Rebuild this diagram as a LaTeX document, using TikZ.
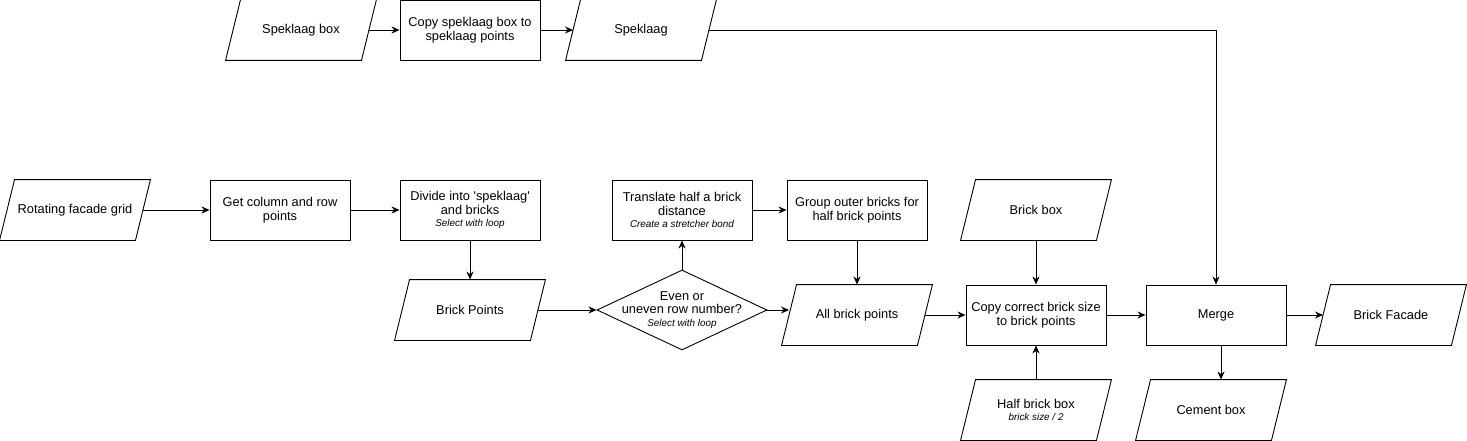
\documentclass[tikz,border=0pt]{standalone}
\usepackage{fontspec}
\setmainfont{Liberation Sans}
\usetikzlibrary{arrows.meta,shapes.geometric}
\newcommand{\subnote}[1]{\\[-1pt]{\fontsize{9.9}{11}\selectfont\itshape #1}}
\begin{document}
\begin{tikzpicture}[x=1pt, y=-1pt, line width=.9pt,
    >={Stealth[length=8pt,width=7pt,inset=2.5pt]},
    every node/.style={font=\fontsize{12.8}{13.5}\selectfont, align=center},
    proc/.style={draw, minimum width=140, minimum height=60, inner sep=0},
    io/.style={minimum width=135, minimum height=60, inner sep=0,
        append after command={\pgfextra{\draw ([xshift=-7.5]\tikzlastnode.south west)--([xshift=7.5]\tikzlastnode.north west)--([xshift=7.5]\tikzlastnode.north east)--([xshift=-7.5]\tikzlastnode.south east)--cycle;}}},
    decision/.style={diamond, draw, minimum width=170, minimum height=80, inner sep=-20pt}]
\useasboundingbox (0,0) rectangle (1467,441);
% top row
\node[io] (spkbox) at (301,30) {Speklaag box};
\node[proc] (spkcopy) at (470,30) {Copy speklaag box to\\ speklaag points};
\node[io] (spk) at (641,30) {Speklaag};
% middle row
\node[io] (grid) at (75,210) {Rotating facade grid};
\node[proc] (colrow) at (280,210) {Get column and row\\ points};
\node[proc] (divide) at (470,210) {Divide into \textquotesingle speklaag\textquotesingle\\ and bricks \subnote{Select with loop}};
\node[proc] (shift) at (682,210) {Translate half a brick\\ distance \subnote{Create a stretcher bond}};
\node[proc] (outer) at (857,210) {Group outer bricks for\\ half brick points};
\node[io] (brickbox) at (1036,210) {Brick box};
% bottom rows
\node[io] (brickpts) at (470,310) {Brick Points};
\node[decision] (parity) at (682,310) {Even or\\ uneven row number? \subnote{Select with loop}};
\node[io] (allpts) at (857,315) {All brick points};
\node[proc] (sizecopy) at (1036,315) {Copy correct brick size\\ to brick points};
\node[io] (halfbox) at (1036,410) {Half brick box \subnote{brick size / 2}};
\node[proc] (merge) at (1216,315) {Merge};
\node[io] (cement) at (1211,410) {Cement box};
\node[io] (facade) at (1391,315) {Brick Facade};

\foreach \a/\b in {spkbox/spkcopy, spkcopy/spk, grid/colrow, colrow/divide, brickpts/parity,
    shift/outer, allpts/sizecopy, sizecopy/merge, merge/facade, divide/brickpts,
    parity/shift, outer/allpts, brickbox/sizecopy, halfbox/sizecopy}
{
    \draw[->] (\a) -- (\b);
}
\draw[->] (parity.east) -- (parity.east -| allpts.west);
\draw[->] (spk) -| (merge);
\draw[->] ([xshift=5]merge.south) -- ([xshift=10]cement.north);
\end{tikzpicture}
\end{document}
